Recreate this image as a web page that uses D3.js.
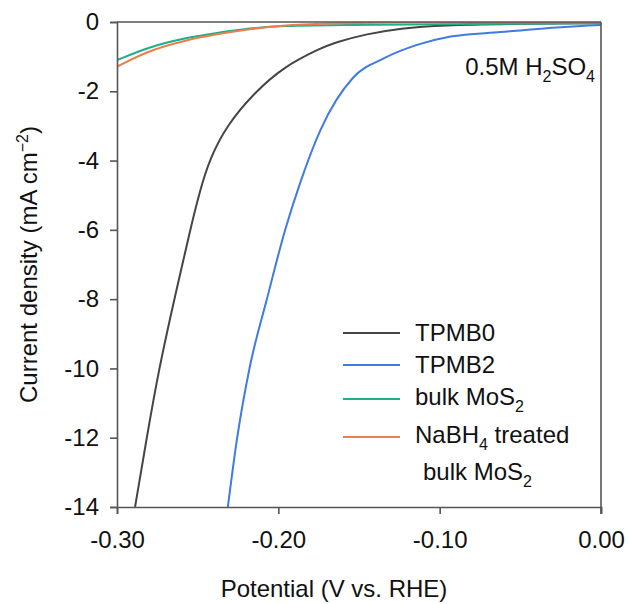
<!DOCTYPE html>
<html>
<head>
<meta charset="utf-8">
<script src="https://cdn.jsdelivr.net/npm/d3@7"></script>
<style>
  body { margin: 0; background: #fff; }
  text { font-family: "Liberation Sans", Arial, sans-serif; fill: #111; }
</style>
</head>
<body>
<div id="chart"></div>
<script>
// potential (V vs. RHE) and current density (mA cm-2)
var tpmb0_v = [-0.2888, -0.2816, -0.2738, -0.2646, -0.2547, -0.2485, -0.2425, -0.2319, -0.2153, -0.1967, -0.1739, -0.1657, -0.1450, -0.1242, -0.0994, -0.050, 0];
var tpmb0_j = [-14, -12, -9.96, -8.03, -6.01, -4.85, -3.95, -2.98, -2.06, -1.29, -0.76, -0.60, -0.34, -0.18, -0.09, -0.05, -0.03];

var tpmb2_v = [-0.2313, -0.2255, -0.2177, -0.2072, -0.1957, -0.1863, -0.1739, -0.1537, -0.1347, -0.1140, -0.0932, -0.0621, -0.0248, 0];
var tpmb2_j = [-14, -12, -9.96, -8.02, -5.99, -4.62, -3.12, -1.61, -1.05, -0.66, -0.42, -0.29, -0.15, -0.09];

var bulk_v = [-0.30, -0.2795, -0.2588, -0.2381, -0.2174, -0.1988, -0.16, -0.10, -0.05, 0];
var bulk_j = [-1.10, -0.71, -0.47, -0.31, -0.18, -0.11, -0.08, -0.07, -0.05, -0.03];

var nabh4_v = [-0.30, -0.2795, -0.2588, -0.2381, -0.2174, -0.1988, -0.17, -0.13, -0.06, 0];
var nabh4_j = [-1.29, -0.81, -0.54, -0.35, -0.20, -0.10, -0.04, -0.01, 0, 0];

var x_ticks = [-0.30, -0.20, -0.10, 0.00];
var x_tick_labels = ["-0.30", "-0.20", "-0.10", "0.00"];
var y_ticks = [0, -2, -4, -6, -8, -10, -12, -14];
var y_tick_labels = ["0", "-2", "-4", "-6", "-8", "-10", "-12", "-14"];

var series = [
    {name: "TPMB0", v: tpmb0_v, j: tpmb0_j, color: "#454545", curve: d3.curveBasis},
    {name: "TPMB2", v: tpmb2_v, j: tpmb2_j, color: "#3f7be0", curve: d3.curveMonotoneX},
    {name: "bulk MoS2", v: bulk_v, j: bulk_j, color: "#1fae88", curve: d3.curveBasis},
    {name: "NaBH4 treated bulk MoS2", v: nabh4_v, j: nabh4_j, color: "#ec7d4c", curve: d3.curveBasis}
];

var W = 629, H = 604;
var margin = {top: 22, right: 28, bottom: 97, left: 117};
var width = W - margin.left - margin.right;
var height = H - margin.top - margin.bottom;

var svg = d3.select("#chart")
    .append("svg")
    .attr("width", W)
    .attr("height", H)
    .append("g")
    .attr("transform", "translate(" + margin.left + "," + margin.top + ")");

var x = d3.scaleLinear().domain([-0.30, 0]).range([0, width]);
var y = d3.scaleLinear().domain([-14, 0]).range([height, 0]);

svg.append("defs").append("clipPath").attr("id", "clip")
    .append("rect").attr("width", width).attr("height", height);

// curves, blue and black drawn under the flat ones
var order = [1, 0, 2, 3];
svg.append("g").attr("clip-path", "url(#clip)")
    .selectAll("path")
    .data(order.map(i => series[i]))
    .join("path")
    .attr("d", s => d3.line()
        .x(d => x(d[0]))
        .y(d => y(d[1]))
        .curve(s.curve)(d3.zip(s.v, s.j)))
    .attr("fill", "none")
    .attr("stroke", s => s.color)
    .attr("stroke-width", 2);

// axes
var xAxis = svg.append("g")
    .attr("transform", "translate(0," + height + ")")
    .call(d3.axisBottom(x).tickValues(x_ticks).tickSize(7).tickPadding(17)
        .tickFormat((d, i) => x_tick_labels[i]));

var yAxis = svg.append("g")
    .call(d3.axisLeft(y).tickValues(y_ticks).tickSize(7).tickPadding(11)
        .tickFormat((d, i) => y_tick_labels[i]));

[xAxis, yAxis].forEach(function(g) {
    g.selectAll("path").attr("stroke", "#555").attr("stroke-width", 1.6);
    g.selectAll("line").attr("stroke", "#555").attr("stroke-width", 1.6);
    g.selectAll("text").style("font-size", "24px").attr("fill", "#111")
        .style("font-family", "'Liberation Sans', Arial, sans-serif");
});

// top and right frame
svg.append("line").attr("x1", 0).attr("x2", width).attr("y1", 0).attr("y2", 0)
    .attr("stroke", "#555").attr("stroke-width", 1.6);
svg.append("line").attr("x1", width).attr("x2", width).attr("y1", 0).attr("y2", height + 7)
    .attr("stroke", "#555").attr("stroke-width", 1.6);

// axis titles
svg.append("text")
    .attr("x", width / 2 - 25)
    .attr("y", height + 90)
    .attr("text-anchor", "middle")
    .style("font-size", "24px")
    .text("Potential (V vs. RHE)");

var yt = svg.append("text")
    .attr("transform", "translate(-80," + (height / 2) + ") rotate(-90)")
    .attr("text-anchor", "middle")
    .style("font-size", "24px");
yt.append("tspan").text("Current density (mA cm");
yt.append("tspan").attr("dy", -9).style("font-size", "16px").text("\u22122");
yt.append("tspan").attr("dy", 9).text(")");

// electrolyte note
var note = svg.append("text")
    .attr("x", width - 6)
    .attr("y", 53)
    .attr("text-anchor", "end")
    .style("font-size", "24px");
note.append("tspan").text("0.5M H");
note.append("tspan").attr("dy", 7).style("font-size", "16px").text("2");
note.append("tspan").attr("dy", -7).text("SO");
note.append("tspan").attr("dy", 7).style("font-size", "16px").text("4");

// legend
var legend_y = [311, 343, 377, 415];
var leg = svg.append("g").attr("transform", "translate(226,0)");
series.forEach(function(s, i) {
    leg.append("line")
        .attr("x1", 0).attr("x2", 57)
        .attr("y1", legend_y[i]).attr("y2", legend_y[i])
        .attr("stroke", s.color).attr("stroke-width", 2);
});
leg.append("text").attr("x", 72).attr("y", legend_y[0] + 8).style("font-size", "24px").text("TPMB0");
leg.append("text").attr("x", 72).attr("y", legend_y[1] + 8).style("font-size", "24px").text("TPMB2");
var l3 = leg.append("text").attr("x", 72).attr("y", legend_y[2] + 6).style("font-size", "24px");
l3.append("tspan").text("bulk MoS");
l3.append("tspan").attr("dy", 7).style("font-size", "16px").text("2");
var l4 = leg.append("text").attr("x", 72).attr("y", legend_y[3] + 6).style("font-size", "24px");
l4.append("tspan").text("NaBH");
l4.append("tspan").attr("dy", 7).style("font-size", "16px").text("4");
l4.append("tspan").attr("dy", -7).text(" treated");
var l5 = leg.append("text").attr("x", 80).attr("y", legend_y[3] + 43).style("font-size", "24px");
l5.append("tspan").text("bulk MoS");
l5.append("tspan").attr("dy", 7).style("font-size", "16px").text("2");
</script>
</body>
</html>
